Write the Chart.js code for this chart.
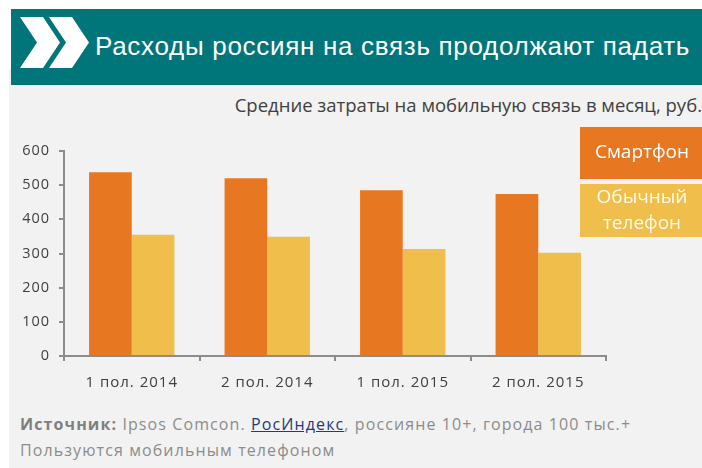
<!DOCTYPE html>
<html>
<head>
<meta charset="utf-8">
<script src="https://cdn.jsdelivr.net/npm/chart.js@4"></script>
<style>
  body { margin: 0; width: 702px; height: 468px; background: #fff; position: relative; overflow: hidden; }
  #panel { position: absolute; left: 9px; top: 69px; width: 693px; height: 399px; background: #f2f2f2; }
  #header { position: absolute; left: 11px; top: 9px; width: 691px; height: 76px; background: #00767b; }
  #header h1 { position: absolute; left: 84px; top: 22px; margin: 0; font: 26px "Liberation Sans", Arial, sans-serif; letter-spacing: 0.7px; color: #fff; font-weight: normal; white-space: nowrap; }
  #header svg { position: absolute; left: 9px; top: 8px; }
  #subtitle { position: absolute; right: 0; top: 92px; font: 18.5px "Open Sans", sans-serif; color: #404040; white-space: nowrap; }
  #chartBox { position: absolute; left: 9px; top: 85px; width: 693px; height: 320px; }
  #source { position: absolute; left: 20px; top: 411px; font: 16px "Open Sans", sans-serif; letter-spacing: 1.1px; color: #8c8c8c; line-height: 26px; white-space: nowrap; }
  #source b { color: #7f7f7f; }
  #source a { color: #1f3a7a; text-decoration: underline; }
</style>
</head>
<body>
<div id="panel"></div>
<div id="header">
  <svg width="72" height="52" viewBox="0 0 72 52">
    <polygon points="0,0 23,0 40,25.5 23,51 0,51 17,25.5" fill="#fff"/>
    <polygon points="29,0 52,0 69,25.5 52,51 29,51 46,25.5" fill="#fff"/>
  </svg>
  <h1>Расходы россиян на связь продолжают падать</h1>
</div>
<div id="subtitle">Средние затраты на мобильную связь в месяц, руб.</div>
<div id="chartBox"><canvas id="myBarChart"></canvas></div>
<div id="source"><b>Источник:</b> Ipsos Comcon. <a>РосИндекс</a>, россияне 10+, города 100 тыс.+<br>Пользуются мобильным телефоном</div>

<script>
"use strict";

// Periods on the x axis
const periods = ["1 пол. 2014", "2 пол. 2014", "1 пол. 2015", "2 пол. 2015"];

// Average monthly spend, rubles
const smartphone = [538, 520, 485, 474];
const regularPhone = [355, 349, 313, 302];

const seriesNames = ["Смартфон", ["Обычный", "телефон"]];
const seriesColors = ["#e87722", "#f0be4a"];

const axisColor = "#8c8c8c";
const textColor = "#404040";

// Wider letter spacing for the axis text, the original font runs wide
const spacing = {
	id: "spacing",
	beforeDraw(chart) {
		chart.ctx.letterSpacing = "1px";
	},
	afterDraw(chart) {
		chart.ctx.letterSpacing = "0px";
	},
};

// Draws the two coloured legend boxes on the right
const boxLegend = {
	id: "boxLegend",
	afterDraw(chart) {
		const ctx = chart.ctx;
		const boxes = [
			{ top: 42, height: 52 },
			{ top: 99, height: 53 },
		];
		ctx.save();
		ctx.letterSpacing = "0px";
		chart.data.datasets.forEach(function (ds, i) {
			const b = boxes[i];
			ctx.fillStyle = ds.backgroundColor;
			ctx.fillRect(571, b.top, 122, b.height);
			ctx.fillStyle = i === 0 ? "#ffffff" : "#fffbeb";
			ctx.font = "19px 'Open Sans', sans-serif";
			ctx.textAlign = "center";
			ctx.textBaseline = "middle";
			const lines = Array.isArray(ds.label) ? ds.label : [ds.label];
			const lh = 26;
			const start = b.top + b.height / 2 - ((lines.length - 1) * lh) / 2;
			lines.forEach(function (line, j) {
				ctx.fillText(line, 633, start + j * lh);
			});
		});
		ctx.restore();
	},
};

function generateBarChart() {
	const ctx = document.getElementById("myBarChart");

	new Chart(ctx, {
		type: "bar",
		data: {
			labels: periods,
			datasets: [
				{
					label: seriesNames[0],
					data: smartphone,
					backgroundColor: seriesColors[0],
				},
				{
					label: seriesNames[1],
					data: regularPhone,
					backgroundColor: seriesColors[1],
				},
			],
		},
		options: {
			responsive: true,
			maintainAspectRatio: false,
			animation: false,
			datasets: {
				bar: {
					categoryPercentage: 0.63,
					barPercentage: 1,
				},
			},
			layout: {
				padding: { top: 66, right: 96, left: 0, bottom: 0 },
			},
			scales: {
				x: {
					grid: {
						offset: true,
						drawOnChartArea: false,
						drawTicks: true,
						tickLength: 5,
						color: axisColor,
						lineWidth: 2,
					},
					border: { color: axisColor, width: 2 },
					ticks: {
						color: textColor,
						padding: 13,
						font: { family: "Open Sans", size: 15 },
					},
				},
				y: {
					min: 0,
					max: 600,
					afterFit: function (scale) {
						scale.width = 55;
					},
					grid: {
						drawOnChartArea: false,
						drawTicks: true,
						tickLength: 5,
						color: axisColor,
						lineWidth: 2,
					},
					border: { color: axisColor, width: 2 },
					ticks: {
						stepSize: 100,
						color: textColor,
						padding: 9,
						font: { family: "Open Sans", size: 14.5 },
					},
				},
			},
			plugins: {
				legend: { display: false },
				tooltip: { enabled: false },
			},
		},
		plugins: [spacing, boxLegend],
	});
}

generateBarChart();
</script>
</body>
</html>
